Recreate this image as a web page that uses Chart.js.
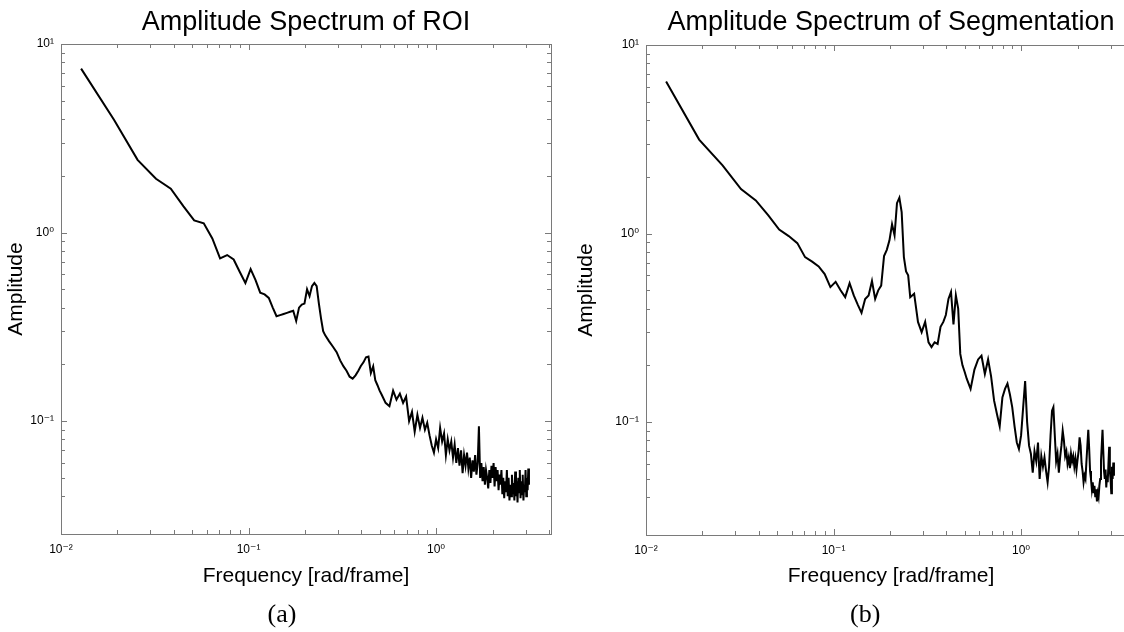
<!DOCTYPE html>
<html>
<head>
<meta charset="utf-8">
<script src="https://cdn.jsdelivr.net/npm/chart.js@4.4.1/dist/chart.umd.min.js"></script>
<style>
    html, body { margin: 0; padding: 0; background: #fff; overflow: hidden; width: 1124px; height: 632px; }
    .panel { position: absolute; top: 0; height: 632px; }
    #boxA { left: 0; width: 562px; }
    #boxB { left: 562px; width: 600px; }
</style>
</head>
<body>
<div class="panel" id="boxA"><canvas id="roiChart" width="562" height="632"></canvas></div>
<div class="panel" id="boxB"><canvas id="segChart" width="600" height="632"></canvas></div>
<script>
// frequency bins [rad/frame], shared by both spectra
const freq = [
    0.0128, 0.0192, 0.0256, 0.0321, 0.0385, 0.0449, 0.0513, 0.0577, 0.0641, 0.0705,
    0.0769, 0.0833, 0.0897, 0.0962, 0.1026, 0.1090, 0.1154, 0.1218, 0.1282, 0.1346,
    0.1410, 0.1474, 0.1538, 0.1603, 0.1667, 0.1731, 0.1795, 0.1859, 0.1923, 0.1987,
    0.2051, 0.2115, 0.2179, 0.2244, 0.2308, 0.2372, 0.2436, 0.2500, 0.2564,
    0.269, 0.282, 0.295, 0.308, 0.321, 0.333, 0.346, 0.359, 0.372, 0.385,
    0.397, 0.410, 0.423, 0.436, 0.449, 0.462, 0.474, 0.487, 0.500, 0.513,
    0.538, 0.564, 0.590, 0.615, 0.641, 0.667, 0.692, 0.718, 0.744, 0.769,
    0.795, 0.821, 0.846, 0.872, 0.897, 0.923, 0.949, 0.974, 1.000, 1.026,
    1.051, 1.077, 1.103, 1.128, 1.154, 1.179, 1.205, 1.231, 1.256, 1.282,
    1.308, 1.333, 1.359, 1.385, 1.410, 1.436, 1.462, 1.487, 1.513, 1.538,
    1.564, 1.590, 1.615, 1.641, 1.667, 1.692, 1.718, 1.744, 1.769, 1.795,
    1.821, 1.846, 1.872, 1.897, 1.923, 1.949, 1.974, 2.000, 2.026, 2.051,
    2.077, 2.103, 2.128, 2.154, 2.179, 2.205, 2.231, 2.256, 2.282, 2.308,
    2.333, 2.359, 2.385, 2.410, 2.436, 2.462, 2.487, 2.513, 2.538, 2.564,
    2.590, 2.615, 2.641, 2.667, 2.692, 2.718, 2.744, 2.769, 2.795, 2.821,
    2.846, 2.872, 2.897, 2.923, 2.949, 2.974, 3.000, 3.026, 3.051, 3.077,
    3.103, 3.128
];

const ampROI = [
    7.4, 3.95, 2.43, 1.93, 1.71, 1.38, 1.16, 1.12, 0.93, 0.73,
    0.76, 0.72, 0.62, 0.54, 0.64, 0.56, 0.48, 0.47, 0.45, 0.40,
    0.36, 0.365, 0.37, 0.375, 0.38, 0.385, 0.34, 0.40, 0.415, 0.42,
    0.50, 0.46, 0.52, 0.54, 0.52, 0.42, 0.35, 0.30, 0.285,
    0.265, 0.248, 0.232, 0.21, 0.195, 0.185, 0.172, 0.168, 0.175, 0.185,
    0.196, 0.205, 0.218, 0.22, 0.18, 0.195, 0.165, 0.155, 0.145, 0.138,
    0.125, 0.12, 0.145, 0.13, 0.14, 0.125, 0.135, 0.100, 0.112, 0.088,
    0.108, 0.092, 0.104, 0.09, 0.098, 0.084, 0.074, 0.068, 0.080, 0.072,
    0.092, 0.078, 0.086, 0.066, 0.08, 0.07, 0.078, 0.064, 0.075, 0.06,
    0.072, 0.058, 0.07, 0.053, 0.066, 0.058, 0.068, 0.056, 0.064, 0.05,
    0.062, 0.054, 0.066, 0.052, 0.06, 0.094, 0.05, 0.06, 0.048, 0.057,
    0.046, 0.055, 0.05, 0.044, 0.055, 0.047, 0.058, 0.05, 0.06, 0.045,
    0.057, 0.048, 0.055, 0.043, 0.052, 0.046, 0.055, 0.041, 0.05, 0.039,
    0.048, 0.042, 0.055, 0.04, 0.05, 0.038, 0.046, 0.04, 0.052, 0.041,
    0.047, 0.038, 0.054, 0.04, 0.048, 0.037, 0.05, 0.042, 0.055, 0.039,
    0.048, 0.041, 0.052, 0.038, 0.046, 0.042, 0.055, 0.04, 0.05, 0.043,
    0.056, 0.046
];

const ampSeg = [
    6.4, 3.15, 2.3, 1.72, 1.50, 1.25, 1.05, 0.97, 0.89, 0.75,
    0.71, 0.67, 0.61, 0.52, 0.555, 0.50, 0.46, 0.545, 0.47, 0.42,
    0.38, 0.45, 0.47, 0.56, 0.45, 0.50, 0.53, 0.76, 0.82, 0.92,
    1.12, 0.98, 1.45, 1.55, 1.30, 0.75, 0.63, 0.60, 0.46,
    0.48, 0.34, 0.30, 0.34, 0.265, 0.25, 0.265, 0.26, 0.32, 0.34,
    0.37, 0.45, 0.49, 0.33, 0.47, 0.40, 0.23, 0.20, 0.185, 0.17,
    0.15, 0.19, 0.215, 0.225, 0.18, 0.215, 0.175, 0.13, 0.11, 0.095,
    0.135, 0.15, 0.16, 0.14, 0.12, 0.095, 0.078, 0.072, 0.085, 0.12,
    0.165, 0.10, 0.075, 0.068, 0.054, 0.07, 0.062, 0.078, 0.05, 0.066,
    0.058, 0.065, 0.055, 0.048, 0.058, 0.085, 0.115, 0.12, 0.085, 0.062,
    0.068, 0.054, 0.065, 0.075, 0.09, 0.08, 0.066, 0.07, 0.06, 0.065,
    0.057, 0.068, 0.062, 0.066, 0.058, 0.064, 0.056, 0.063, 0.07, 0.083,
    0.075, 0.06, 0.055, 0.048, 0.052, 0.05, 0.062, 0.075, 0.091, 0.072,
    0.055, 0.05, 0.044, 0.048, 0.042, 0.046, 0.04, 0.044, 0.038, 0.042,
    0.04, 0.046, 0.05, 0.062, 0.075, 0.091, 0.07, 0.055, 0.05, 0.056,
    0.045, 0.052, 0.048, 0.06, 0.074, 0.055, 0.05, 0.042, 0.058, 0.05,
    0.061, 0.052
];

const xDecades = [0.01, 0.1, 1];
const xDecadeLabels = ['10\u207B\u00B2', '10\u207B\u00B9', '10\u2070'];
const yDecades = [0.1, 1, 10];
const yDecadeLabels = ['10\u207B\u00B9', '10\u2070', '10\u00B9'];

const sans = "'Liberation Sans', Arial, 'DejaVu Sans', sans-serif";
const serif = "'Liberation Serif', 'Times New Roman', serif";

const decadeLabel = (decades, labels) => (value) => {
    const i = decades.findIndex(d => Math.abs(d - value) < d * 1e-6);
    return i >= 0 ? labels[i] : '';
};

// MATLAB style box with inward tick marks on all four sides
const boxTicks = {
    id: 'boxTicks',
    afterDraw(chart) {
        const { ctx, chartArea: a, scales: { x, y } } = chart;
        const markLen = (v) => {
            const e = Math.pow(10, Math.floor(Math.log10(v) + 1e-9));
            const m = v / e;
            if (Math.abs(m - Math.round(m)) > 1e-6) return 0;
            return Math.round(m) === 1 ? 6 : 4;
        };
        ctx.save();
        ctx.strokeStyle = '#7a7a7a';
        ctx.lineWidth = 1;
        ctx.beginPath();
        x.ticks.forEach(t => {
            const len = markLen(t.value);
            if (!len) return;
            const px = Math.round(x.getPixelForValue(t.value)) + 0.5;
            if (px <= a.left + 1 || px >= a.right - 1) return;
            ctx.moveTo(px, a.bottom); ctx.lineTo(px, a.bottom - len);
            ctx.moveTo(px, a.top); ctx.lineTo(px, a.top + len);
        });
        y.ticks.forEach(t => {
            const len = markLen(t.value);
            if (!len) return;
            const py = Math.round(y.getPixelForValue(t.value)) + 0.5;
            if (py <= a.top + 1 || py >= a.bottom - 1) return;
            ctx.moveTo(a.left, py); ctx.lineTo(a.left + len, py);
            ctx.moveTo(a.right, py); ctx.lineTo(a.right - len, py);
        });
        ctx.stroke();
        ctx.strokeRect(Math.round(a.left) + 0.5, Math.round(a.top) + 0.5,
            Math.round(a.width), Math.round(a.height));
        ctx.restore();
    }
};

function spectrumChart(canvasId, amp, title, label, o) {
    const ctx = document.getElementById(canvasId).getContext('2d');
    return new Chart(ctx, {
        type: 'line',
        data: {
            datasets: [{
                data: freq.map((f, i) => ({ x: f, y: amp[i] })),
                borderColor: '#000',
                borderWidth: 2,
                pointRadius: 0,
                tension: 0,
                fill: false,
            }],
        },
        options: {
            responsive: false,
            animation: false,
            events: [],
            layout: { padding: { left: 0, right: o.padRight, top: 0, bottom: 0 } },
            scales: {
                x: {
                    type: 'logarithmic',
                    min: 0.01,
                    max: 4.1,
                    afterFit: (s) => { s.height = o.xHeight; },
                    grid: { display: false, drawTicks: false },
                    border: { display: false },
                    ticks: {
                        autoSkip: false,
                        maxRotation: 0,
                        padding: 8,
                        color: '#000',
                        font: { family: sans, size: 12 },
                        callback: decadeLabel(xDecades, xDecadeLabels),
                    },
                    title: {
                        display: true,
                        text: 'Frequency [rad/frame]',
                        color: '#000',
                        font: { family: sans, size: 21 },
                        padding: { top: 0, bottom: 11 },
                    },
                },
                y: {
                    type: 'logarithmic',
                    min: 0.0252,
                    max: 10,
                    afterFit: (s) => { s.width = o.yWidth; },
                    grid: { display: false, drawTicks: false },
                    border: { display: false },
                    ticks: {
                        autoSkip: false,
                        padding: 7,
                        color: '#000',
                        font: { family: sans, size: 12 },
                        callback: decadeLabel(yDecades, yDecadeLabels),
                    },
                    title: {
                        display: true,
                        text: 'Amplitude',
                        color: '#000',
                        font: { family: sans, size: 21 },
                        padding: { top: o.yTitlePad, bottom: 0 },
                    },
                },
            },
            plugins: {
                legend: { display: false },
                tooltip: { enabled: false },
                title: {
                    display: true,
                    text: title,
                    color: '#000',
                    fullSize: false,
                    font: { family: sans, size: 27, weight: 'normal' },
                    padding: { top: 6, bottom: o.titleBottom },
                },
                subtitle: {
                    display: true,
                    position: 'bottom',
                    // leading no-break spaces nudge the panel letter to the right
                    text: o.labelIndent + label,
                    color: '#000',
                    font: { family: serif, size: 26, weight: 'normal' },
                    padding: { top: 0, bottom: 1.4 },
                },
            },
        },
        plugins: [boxTicks],
    });
}

spectrumChart('roiChart', ampROI, 'Amplitude Spectrum of ROI', '(a)',
    { padRight: 11, yWidth: 61, xHeight: 65.4, yTitlePad: 3.5, titleBottom: 5.6,
      labelIndent: '\u00A0\u00A0' });
spectrumChart('segChart', ampSeg, 'Amplitude Spectrum of Segmentation', '(b)',
    { padRight: 26, yWidth: 84, xHeight: 64.4, yTitlePad: 12, titleBottom: 6.6,
      labelIndent: '\u00A0\u00A0\u00A0\u00A0\u00A0' });
</script>
</body>
</html>
